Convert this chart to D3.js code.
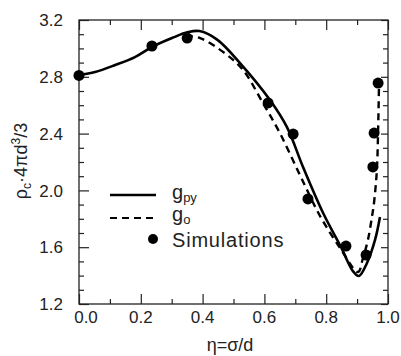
<!DOCTYPE html>
<html lang="en">
<head>
<meta charset="utf-8">
<title>rho_c vs eta</title>
<style>
  body { margin: 0; background: #fff; }
  text { font-family: "Liberation Sans", Arial, sans-serif; fill: #222; }
  .axis path, .axis line { stroke: #222; }
</style>
</head>
<body>
<svg width="401" height="356"></svg>
<script src="https://d3js.org/d3.v7.min.js"></script>
<script>
// values
var etaPY  = [0, 0.052, 0.117, 0.181, 0.236, 0.301, 0.353, 0.390, 0.447, 0.521, 0.618, 0.673, 0.725, 0.790, 0.848, 0.887, 0.906, 0.932, 0.958, 0.974];
var rhoPY  = [2.813, 2.834, 2.883, 2.939, 3.010, 3.073, 3.115, 3.122, 3.062, 2.897, 2.637, 2.446, 2.165, 1.841, 1.600, 1.430, 1.397, 1.489, 1.651, 1.813];

var etaG0  = [0.346, 0.392, 0.479, 0.531, 0.595, 0.650, 0.715, 0.780, 0.845, 0.903, 0.919, 0.935, 0.948, 0.955, 0.964, 0.968, 0.971];
var rhoG0  = [3.087, 3.073, 2.954, 2.848, 2.616, 2.404, 2.108, 1.820, 1.594, 1.425, 1.524, 1.651, 1.813, 1.918, 2.144, 2.425, 2.760];

var etaSim = [0, 0.236, 0.350, 0.612, 0.693, 0.741, 0.864, 0.929, 0.951, 0.955, 0.968];
var rhoSim = [2.81, 3.017, 3.073, 2.616, 2.397, 1.94, 1.608, 1.545, 2.165, 2.404, 2.756];

var xTicks = [0, 0.2, 0.4, 0.6, 0.8, 1.0];
var yTicks = [1.2, 1.6, 2.0, 2.4, 2.8, 3.2];

var svg = d3.select("svg");
var pL = 79, pR = 388, pT = 20, pB = 304;

var x = d3.scaleLinear().domain([0, 1]).range([pL, pR]);
var y = d3.scaleLinear().domain([1.2, 3.2]).range([pB, pT]);

var minorX = d3.range(0, 1.001, 0.1).filter(function(d){ return Math.round(d*10) % 2; });
var minorY = d3.range(1.2, 3.201, 0.1).filter(function(d){ return Math.round(d*10) % 4 != 0; });

// frame
svg.append("rect")
  .attr("x", pL).attr("y", pT)
  .attr("width", pR - pL).attr("height", pB - pT)
  .attr("fill", "none").attr("stroke", "#222").attr("stroke-width", 1.3);

function ticks(axis, tr, vals, size) {
  svg.append("g").attr("class", "axis").attr("transform", tr)
    .call(axis.tickValues(vals).tickSize(size).tickFormat(""))
    .call(function(g){ g.select(".domain").remove(); })
    .selectAll("line").attr("stroke-width", 1.2);
}
ticks(d3.axisBottom(x), "translate(0," + pB + ")", xTicks, -10);
ticks(d3.axisBottom(x), "translate(0," + pB + ")", minorX, -5);
ticks(d3.axisTop(x), "translate(0," + pT + ")", xTicks, -10);
ticks(d3.axisTop(x), "translate(0," + pT + ")", minorX, -5);
ticks(d3.axisLeft(y), "translate(" + pL + ",0)", yTicks, -10);
ticks(d3.axisLeft(y), "translate(" + pL + ",0)", minorY, -5);
ticks(d3.axisRight(y), "translate(" + pR + ",0)", yTicks, -7);
ticks(d3.axisRight(y), "translate(" + pR + ",0)", minorY, -5);

// tick labels
svg.append("g").selectAll("text").data(xTicks).enter().append("text")
  .attr("x", function(d){ return x(d) + (d == 0 ? 7 : 0); })
  .attr("y", 323)
  .attr("text-anchor", "middle")
  .style("font-size", "17px")
  .text(function(d){ return d.toFixed(1); });

svg.append("g").selectAll("text").data(yTicks).enter().append("text")
  .attr("x", 63)
  .attr("y", function(d){ return y(d); })
  .attr("dy", "0.36em")
  .attr("text-anchor", "end")
  .style("font-size", "17px")
  .text(function(d){ return d.toFixed(1); });

// axis titles
svg.append("text")
  .attr("x", 230).attr("y", 351)
  .attr("text-anchor", "middle")
  .style("font-size", "18px")
  .text("η=σ/d");

var yt = svg.append("text")
  .attr("transform", "translate(27,161) rotate(-90)")
  .attr("text-anchor", "middle")
  .style("font-size", "18px");
yt.append("tspan").text("ρ");
yt.append("tspan").attr("dy", 4).style("font-size", "12px").text("c");
yt.append("tspan").attr("dy", -4).text("·4πd");
yt.append("tspan").attr("dy", -7).style("font-size", "12px").text("3");
yt.append("tspan").attr("dy", 7).text("/3");

// curves
var line = d3.line()
  .x(function(d){ return x(d[0]); })
  .y(function(d){ return y(d[1]); })
  .curve(d3.curveCatmullRom.alpha(0.5));

svg.append("path")
  .datum(d3.zip(etaPY, rhoPY))
  .attr("d", line)
  .attr("fill", "none").attr("stroke", "#000").attr("stroke-width", 2.6);

svg.append("path")
  .datum(d3.zip(etaG0, rhoG0))
  .attr("d", line)
  .attr("fill", "none").attr("stroke", "#000").attr("stroke-width", 2.4)
  .attr("stroke-dasharray", "7,5");

svg.append("g").selectAll("circle").data(d3.zip(etaSim, rhoSim)).enter().append("circle")
  .attr("cx", function(d){ return x(d[0]); })
  .attr("cy", function(d){ return y(d[1]); })
  .attr("r", 5.5)
  .attr("fill", "#000");

// legend
var lg = svg.append("g");
lg.append("line").attr("x1", 110).attr("x2", 156).attr("y1", 195).attr("y2", 195)
  .attr("stroke", "#000").attr("stroke-width", 2.4);
lg.append("line").attr("x1", 110).attr("x2", 156).attr("y1", 218).attr("y2", 218)
  .attr("stroke", "#000").attr("stroke-width", 2).attr("stroke-dasharray", "7,5");
lg.append("circle").attr("cx", 153).attr("cy", 239).attr("r", 5).attr("fill", "#000");

var t1 = lg.append("text").attr("x", 172).attr("y", 199).style("font-size", "20px");
t1.append("tspan").text("g");
t1.append("tspan").attr("dy", 3).style("font-size", "13px").text("py");
var t2 = lg.append("text").attr("x", 172).attr("y", 221).style("font-size", "20px");
t2.append("tspan").text("g");
t2.append("tspan").attr("dy", 3).style("font-size", "13px").text("o");
lg.append("text").attr("x", 172).attr("y", 247)
  .style("font-size", "20px").style("letter-spacing", "0.8px")
  .text("Simulations");
</script>
</body>
</html>
